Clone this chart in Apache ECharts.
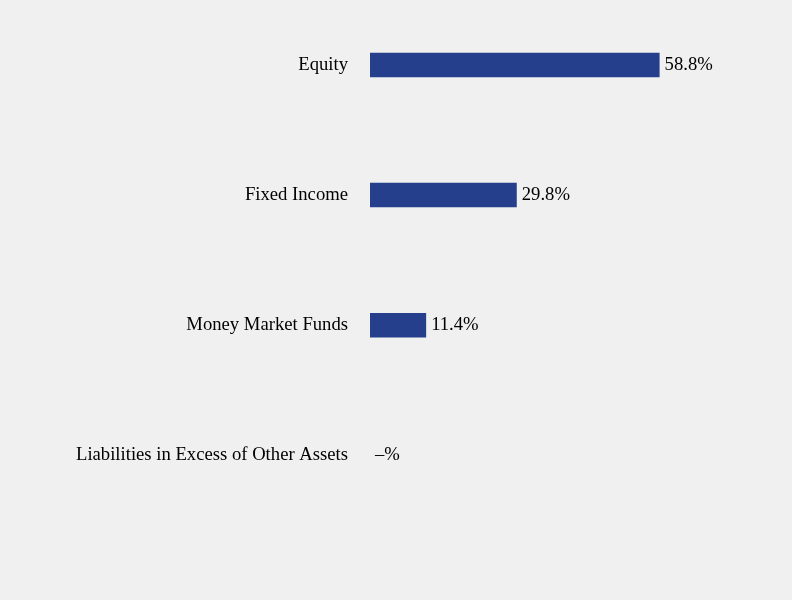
<!DOCTYPE html>
<html>
<head>
<meta charset="utf-8">
<script src="https://cdn.jsdelivr.net/npm/echarts@6/dist/echarts.min.js"></script>
<style>
html,body{margin:0;padding:0;background:#f0f0f0;}
#chart{width:792px;height:600px;}
</style>
</head>
<body>
<div id="chart"></div>
<script>
var categories = ["Equity", "Fixed Income", "Money Market Funds", "Liabilities in Excess of Other Assets"];
var values = [58.8, 29.8, 11.4, 0];
var valueLabels = ["58.8%", "29.8%", "11.4%", "–%"];

var chart = echarts.init(document.getElementById('chart'));
chart.setOption({
  backgroundColor: '#f0f0f0',
  animation: false,
  grid: {left: 370, right: 28, top: -2.5, bottom: 79.7, containLabel: false},
  xAxis: {
    type: 'value', min: 0, max: 80, show: false
  },
  yAxis: {
    type: 'category', data: categories, inverse: true,
    axisLine: {show: false}, axisTick: {show: false},
    axisLabel: {
      margin: 22, color: '#000', fontFamily: 'Liberation Serif', fontSize: 18.67
    }
  },
  series: [{
    type: 'bar',
    data: values,
    barWidth: 24.5,
    itemStyle: {color: '#253f8c'},
    label: {
      show: true, position: 'right', distance: 5,
      color: '#000', fontFamily: 'Liberation Serif', fontSize: 18.67,
      formatter: function (p) { return valueLabels[p.dataIndex]; }
    }
  }]
});
</script>
</body>
</html>
